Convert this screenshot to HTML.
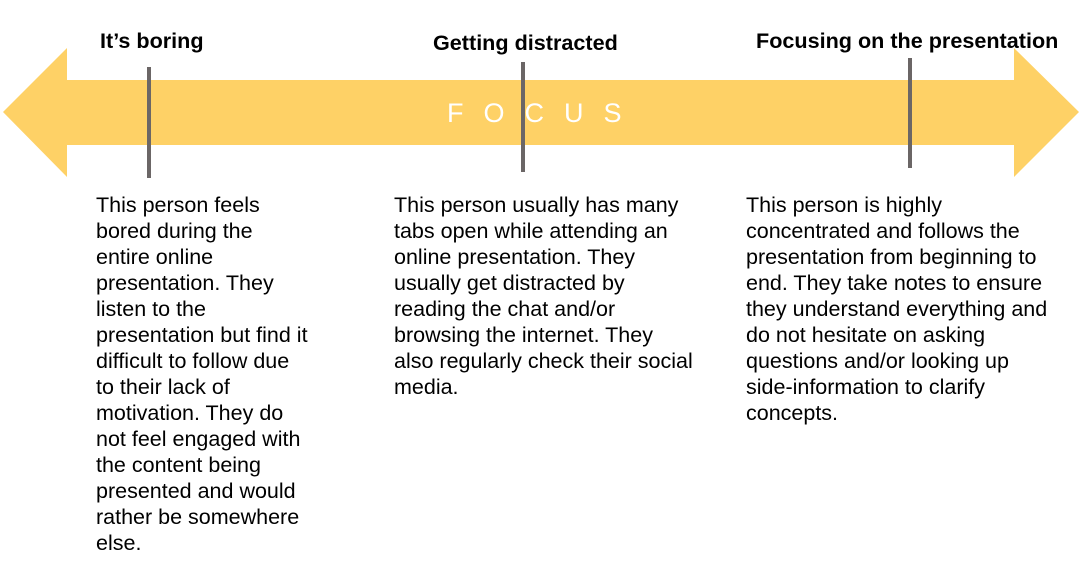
<!DOCTYPE html>
<html><head><style>
body{margin:0;width:1088px;height:580px;background:#fff;position:relative;overflow:hidden;font-family:"Liberation Sans",Arial,sans-serif;color:#000}
.t{position:absolute;font-weight:bold;font-size:21.6px;line-height:24px;white-space:nowrap}
.p{position:absolute;font-size:21.5px;line-height:26px;white-space:nowrap}
.tick{position:absolute;width:4px;background:#6b6666}
</style></head><body>
<svg width="1088" height="580" style="position:absolute;left:0;top:0">
<polygon points="3,112 67,48 67,80 1014,80 1014,48 1079,112 1014,177 1014,145 67,145 67,177" fill="#FED166"/>
</svg>
<div style="position:absolute;left:447px;top:98px;font-size:27px;line-height:30px;color:#fff;letter-spacing:20px;white-space:nowrap">FOCUS</div>
<div class="tick" style="left:147px;top:67px;height:111px"></div>
<div class="tick" style="left:521px;top:62px;height:110px"></div>
<div class="tick" style="left:908px;top:58px;height:110px"></div>
<div class="t" style="left:100px;top:29px">It’s boring</div>
<div class="t" style="left:433px;top:31px">Getting distracted</div>
<div class="t" style="left:756px;top:29px">Focusing on the presentation</div>
<div class="p" style="left:96px;top:192px">This person feels<br>bored during the<br>entire online<br>presentation. They<br>listen to the<br>presentation but find it<br>difficult to follow due<br>to their lack of<br>motivation. They do<br>not feel engaged with<br>the content being<br>presented and would<br>rather be somewhere<br>else.</div>
<div class="p" style="left:394px;top:192px">This person usually has many<br>tabs open while attending an<br>online presentation. They<br>usually get distracted by<br>reading the chat and/or<br>browsing the internet. They<br>also regularly check their social<br>media.</div>
<div class="p" style="left:746px;top:192px">This person is highly<br>concentrated and follows the<br>presentation from beginning to<br>end. They take notes to ensure<br>they understand everything and<br>do not hesitate on asking<br>questions and/or looking up<br>side-information to clarify<br>concepts.</div>
</body></html>
